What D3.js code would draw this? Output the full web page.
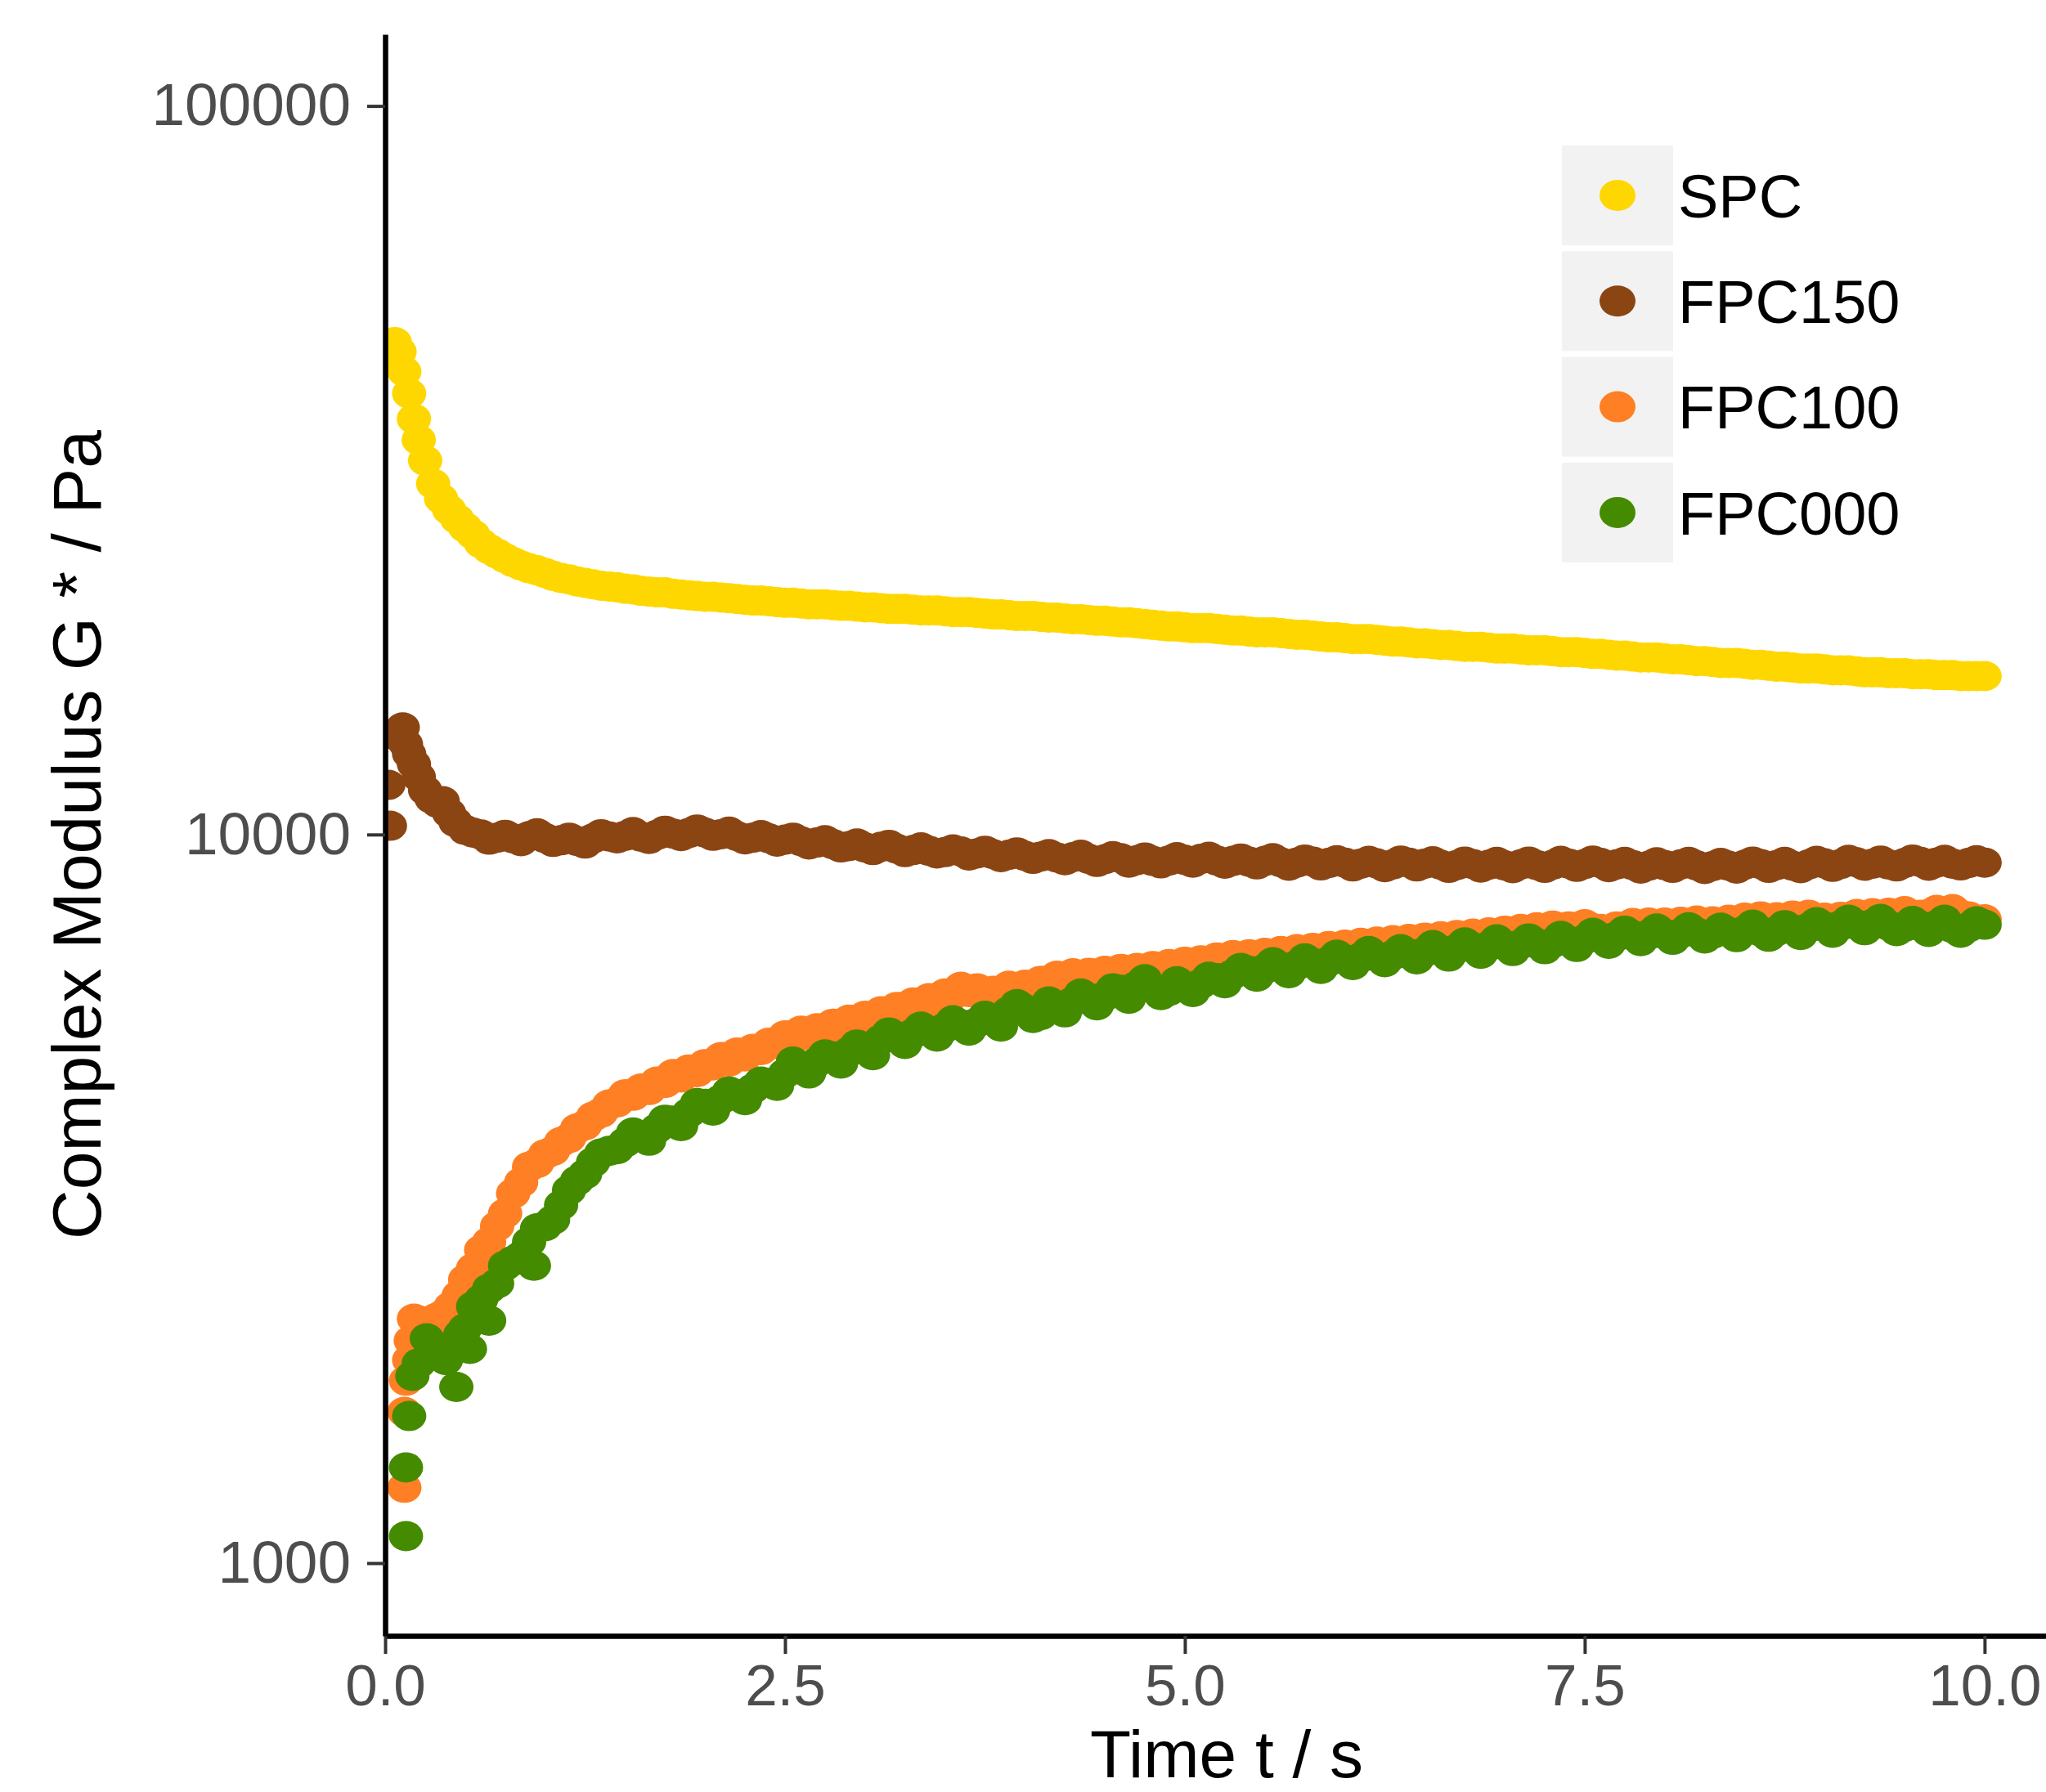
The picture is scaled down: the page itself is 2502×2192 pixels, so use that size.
<!DOCTYPE html>
<html>
<head>
<meta charset="utf-8">
<script src="https://cdn.jsdelivr.net/npm/d3@7"></script>
<style>
  body { margin: 0; background: #fff; }
  svg { display: block; }
  text { font-family: "Liberation Sans", Arial, sans-serif; }
</style>
</head>
<body>
<svg id="chart"></svg>
<script>
// data (time in s, complex modulus in Pa)

// time grids from 0.5 s on
var tMain = [
  0.5, 0.6, 0.7, 0.8, 0.9, 1.0, 1.1, 1.2, 1.3, 1.4,
  1.5, 1.6, 1.7, 1.8, 1.9, 2.0, 2.1, 2.2, 2.3, 2.4,
  2.5, 2.6, 2.7, 2.8, 2.9, 3.0, 3.1, 3.2, 3.3, 3.4,
  3.5, 3.6, 3.7, 3.8, 3.9, 4.0, 4.1, 4.2, 4.3, 4.4,
  4.5, 4.6, 4.7, 4.8, 4.9, 5.0, 5.1, 5.2, 5.3, 5.4,
  5.5, 5.6, 5.7, 5.8, 5.9, 6.0, 6.1, 6.2, 6.3, 6.4,
  6.5, 6.6, 6.7, 6.8, 6.9, 7.0, 7.1, 7.2, 7.3, 7.4,
  7.5, 7.6, 7.7, 7.8, 7.9, 8.0, 8.1, 8.2, 8.3, 8.4,
  8.5, 8.6, 8.7, 8.8, 8.9, 9.0, 9.1, 9.2, 9.3, 9.4,
  9.5, 9.6, 9.7, 9.8, 9.9, 10.0
];
var tMid = [
  0.55, 0.65, 0.75, 0.85, 0.95, 1.05, 1.15, 1.25, 1.35, 1.45,
  1.55, 1.65, 1.75, 1.85, 1.95, 2.05, 2.15, 2.25, 2.35, 2.45,
  2.55, 2.65, 2.75, 2.85, 2.95, 3.05, 3.15, 3.25, 3.35, 3.45,
  3.55, 3.65, 3.75, 3.85, 3.95, 4.05, 4.15, 4.25, 4.35, 4.45,
  4.55, 4.65, 4.75, 4.85, 4.95, 5.05, 5.15, 5.25, 5.35, 5.45,
  5.55, 5.65, 5.75, 5.85, 5.95, 6.05, 6.15, 6.25, 6.35, 6.45,
  6.55, 6.65, 6.75, 6.85, 6.95, 7.05, 7.15, 7.25, 7.35, 7.45,
  7.55, 7.65, 7.75, 7.85, 7.95, 8.05, 8.15, 8.25, 8.35, 8.45,
  8.55, 8.65, 8.75, 8.85, 8.95, 9.05, 9.15, 9.25, 9.35, 9.45,
  9.55, 9.65, 9.75, 9.85, 9.95
];

// first half second, [t, G*]
var spcEarly = [[0.03, 45500], [0.06, 47400], [0.09, 46000], [0.12, 43200], [0.15, 40300], [0.18, 37200],
                [0.21, 34800], [0.25, 32600], [0.3, 30300], [0.35, 28900], [0.4, 27900], [0.45, 27100]];
var fpc150Early = [[0.02, 11700], [0.03, 10280], [0.09, 13600], [0.11, 14030], [0.13, 13300], [0.15, 12900],
                   [0.18, 12490], [0.21, 12000], [0.25, 11500], [0.29, 11200], [0.33, 11050], [0.36, 11110],
                   [0.4, 10700], [0.44, 10400]];
var fpc100Early = [[0.12, 1269], [0.12, 1613], [0.13, 1780], [0.15, 1900], [0.16, 2020], [0.18, 2165],
                   [0.22, 2150], [0.27, 2100], [0.32, 2170], [0.36, 2193], [0.41, 2250], [0.46, 2330]];
var fpc000Early = [[0.13, 1089], [0.13, 1353], [0.15, 1592], [0.17, 1807], [0.21, 1880], [0.26, 2035],
                   [0.28, 2010], [0.33, 1930], [0.38, 1900], [0.445, 1745], [0.47, 2060], [0.53, 1968],
                   [0.65, 2152], [0.93, 2560]];

// values on tMain
var spcMain = [
  26400, 25100, 24300, 23650, 23200, 22850, 22500, 22250, 22050, 21900,
  21750, 21600, 21500, 21400, 21300, 21200, 21150, 21050, 20950, 20900,
  20800, 20750, 20700, 20650, 20600, 20500, 20450, 20400, 20350, 20300,
  20250, 20200, 20150, 20050, 20000, 19950, 19900, 19850, 19750, 19700,
  19650, 19550, 19500, 19400, 19300, 19250, 19200, 19150, 19050, 19000,
  18950, 18900, 18800, 18750, 18650, 18600, 18550, 18500, 18400, 18350,
  18300, 18200, 18150, 18100, 18050, 18000, 17950, 17900, 17850, 17800,
  17750, 17700, 17600, 17550, 17500, 17450, 17400, 17300, 17250, 17200,
  17150, 17100, 17000, 16950, 16900, 16850, 16800, 16750, 16700, 16650,
  16650, 16600, 16550, 16550, 16500, 16500
];
var fpc150Main = [
  10150, 10000, 9900, 9880, 9950, 9890, 9820, 9800, 9880, 9940,
  9960, 9930, 9990, 10030, 10050, 10060, 10010, 9950, 9900, 9880,
  9840, 9790, 9750, 9700, 9640, 9600, 9620, 9560, 9520, 9500,
  9460, 9480, 9420, 9400, 9380, 9350, 9330, 9300, 9310, 9260,
  9250, 9280, 9220, 9200, 9210, 9230, 9260, 9210, 9200, 9180,
  9200, 9160, 9150, 9180, 9140, 9150, 9120, 9130, 9100, 9150,
  9120, 9090, 9080, 9110, 9090, 9070, 9100, 9080, 9090, 9120,
  9110, 9140, 9100, 9080, 9060, 9080, 9100, 9070, 9050, 9060,
  9090, 9110, 9080, 9060, 9100, 9130, 9110, 9160, 9120, 9100,
  9140, 9170, 9150, 9120, 9140, 9150
];
var fpc100Main = [
  2450, 2690, 2900, 3216, 3500, 3640, 3786, 3950, 4100, 4260,
  4400, 4480, 4580, 4690, 4760, 4840, 4950, 5020, 5080, 5180,
  5300, 5380, 5420, 5500, 5570, 5640, 5720, 5800, 5880, 5960,
  6050, 6180, 6150, 6100, 6200, 6220, 6300, 6400, 6450, 6460,
  6500, 6540, 6560, 6600, 6640, 6690, 6720, 6780, 6830, 6850,
  6880, 6920, 6960, 6990, 7030, 7060, 7100, 7130, 7160, 7190,
  7220, 7250, 7280, 7310, 7340, 7380, 7420, 7460, 7500, 7480,
  7530, 7420, 7480, 7560, 7570, 7570, 7590, 7620, 7600, 7640,
  7690, 7720, 7700, 7740, 7760, 7690, 7710, 7780, 7800, 7810,
  7850, 7760, 7880, 7900, 7720, 7650
];
var fpc000Main = [
  2100, 2300, 2420, 2600, 2760, 2900, 3100, 3350, 3550, 3680,
  3780, 3860, 3950, 4050, 4150, 4270, 4330, 4400, 4480, 4560,
  4700, 4800, 4870, 4960, 5030, 5100, 5230, 5280, 5330, 5380,
  5430, 5490, 5520, 5560, 5720, 5760, 5650, 5800, 5900, 5950,
  6000, 6120, 6200, 6150, 6100, 6180, 6240, 6350, 6430, 6500,
  6540, 6580, 6620, 6660, 6700, 6740, 6780, 6800, 6830, 6860,
  6900, 6940, 6970, 7000, 7030, 7050, 7070, 7090, 7100, 7140,
  7180, 7220, 7250, 7270, 7290, 7300, 7320, 7340, 7310, 7350,
  7380, 7360, 7370, 7410, 7450, 7470, 7500, 7520, 7540, 7500,
  7470, 7490, 7510, 7440, 7460, 7520
];

// values on tMid
var spcMid = [
  25800, 24650, 23950, 23400, 23050, 22650, 22400, 22150, 21950, 21850,
  21700, 21550, 21500, 21350, 21250, 21200, 21100, 21000, 20950, 20850,
  20800, 20700, 20700, 20600, 20550, 20500, 20400, 20400, 20300, 20300,
  20200, 20200, 20100, 20050, 19950, 19950, 19850, 19800, 19750, 19650,
  19600, 19550, 19450, 19350, 19300, 19200, 19200, 19100, 19050, 18950,
  18950, 18850, 18800, 18700, 18650, 18550, 18550, 18450, 18400, 18300,
  18250, 18200, 18100, 18100, 18000, 18000, 17900, 17900, 17800, 17800,
  17700, 17650, 17600, 17500, 17500, 17400, 17350, 17300, 17200, 17200,
  17100, 17050, 17000, 16900, 16900, 16800, 16800, 16700, 16700, 16650,
  16600, 16600, 16550, 16500, 16500
];
var fpc150Mid = [
  10060, 9840, 9990, 9790, 10040, 9770, 9900, 9720, 10010, 9880,
  10080, 9860, 10120, 9950, 10160, 9960, 10090, 9850, 9980, 9780,
  9900, 9690, 9820, 9600, 9720, 9520, 9680, 9460, 9600, 9420,
  9540, 9360, 9500, 9310, 9450, 9260, 9400, 9220, 9380, 9170,
  9340, 9150, 9300, 9130, 9310, 9150, 9320, 9120, 9270, 9100,
  9280, 9060, 9240, 9070, 9220, 9040, 9200, 9020, 9210, 9040,
  9190, 9000, 9180, 9010, 9170, 8990, 9180, 9000, 9200, 9030,
  9210, 9020, 9170, 8980, 9160, 9000, 9170, 8970, 9140, 8980,
  9180, 9000, 9170, 8990, 9200, 9030, 9230, 9060, 9210, 9040,
  9240, 9060, 9230, 9070, 9220
];
var fpc100Mid = [
  2540, 2760, 3020, 3330, 3540, 3680, 3830, 3990, 4150, 4290,
  4380, 4460, 4560, 4640, 4720, 4820, 4880, 4960, 5060, 5160,
  5250, 5300, 5380, 5460, 5510, 5580, 5660, 5740, 5820, 5900,
  6020, 6080, 6060, 6070, 6120, 6180, 6250, 6280, 6350, 6400,
  6440, 6480, 6520, 6550, 6580, 6620, 6680, 6720, 6740, 6790,
  6820, 6860, 6900, 6940, 6960, 7000, 7040, 7060, 7100, 7120,
  7150, 7180, 7220, 7240, 7280, 7320, 7350, 7380, 7400, 7420,
  7440, 7400, 7460, 7480, 7500, 7510, 7540, 7530, 7560, 7600,
  7620, 7640, 7660, 7680, 7650, 7640, 7700, 7720, 7740, 7760,
  7740, 7780, 7820, 7760, 7640
];
var fpc000Mid = [
  2250, 2380, 2560, 2640, 2880, 2960, 3250, 3420, 3650, 3700,
  3900, 3800, 4060, 3980, 4280, 4180, 4440, 4320, 4580, 4520,
  4880, 4700, 4990, 4850, 5150, 4980, 5350, 5160, 5450, 5280,
  5560, 5380, 5640, 5450, 5850, 5600, 5900, 5700, 6050, 5830,
  6150, 5950, 6330, 6020, 6290, 6080, 6380, 6250, 6560, 6380,
  6680, 6450, 6760, 6540, 6840, 6620, 6920, 6680, 6960, 6740,
  7050, 6800, 7110, 6860, 7180, 6920, 7200, 6960, 7260, 7010,
  7330, 7080, 7380, 7140, 7430, 7170, 7460, 7200, 7450, 7230,
  7520, 7240, 7510, 7280, 7580, 7330, 7640, 7390, 7660, 7370,
  7610, 7350, 7640, 7330, 7600
];

var seriesNames  = ['SPC', 'FPC150', 'FPC100', 'FPC000'];
var seriesColors = ['#FFD700', '#8B4513', '#FF7F24', '#458B00'];
var xTicks = [0, 2.5, 5, 7.5, 10];
var yTicks = [1000, 10000, 100000];

var W = 2502, H = 2192;
var margin = { top: 42, right: 0, bottom: 191, left: 471 };

var x = d3.scaleLinear()
          .domain([0, 10.384])
          .range([margin.left, W - margin.right]);
var y = d3.scaleLog()
          .domain([794.6, 125400])
          .range([H - margin.bottom, margin.top]);

var raw = [
  { early: spcEarly,    main: spcMain,    mid: spcMid },
  { early: fpc150Early, main: fpc150Main, mid: fpc150Mid },
  { early: fpc100Early, main: fpc100Main, mid: fpc100Mid },
  { early: fpc000Early, main: fpc000Main, mid: fpc000Mid }
];

var series = raw.map(function(s, i) {
  var pts = s.early.map(function(p) { return { t: p[0], g: p[1] }; })
            .concat(tMain.map(function(t, j) { return { t: t, g: s.main[j] }; }))
            .concat(tMid.map(function(t, j) { return { t: t, g: s.mid[j] }; }));
  return { name: seriesNames[i], color: seriesColors[i], points: pts };
});

var svg = d3.select('#chart')
            .attr('width', W)
            .attr('height', H);

svg.append('rect').attr('width', W).attr('height', H).attr('fill', '#fff');

// clip points to the panel
svg.append('clipPath')
   .attr('id', 'panel')
   .append('rect')
   .attr('x', margin.left)
   .attr('y', margin.top)
   .attr('width', W - margin.left - margin.right)
   .attr('height', H - margin.top - margin.bottom);

var rx = 21, ry = 18.5;

var plot = svg.append('g').attr('clip-path', 'url(#panel)');

plot.selectAll('.series')
    .data(series)
    .enter()
    .append('g')
    .attr('class', 'series')
    .attr('fill', function(d) { return d.color; })
    .selectAll('ellipse')
    .data(function(d) { return d.points; })
    .enter()
    .append('ellipse')
    .attr('cx', function(d) { return x(d.t); })
    .attr('cy', function(d) { return y(d.g); })
    .attr('rx', rx)
    .attr('ry', ry);

// axes
var xAxis = d3.axisBottom(x)
              .tickValues(xTicks)
              .tickFormat(d3.format('.1f'))
              .tickSize(22)
              .tickSizeOuter(0)
              .tickPadding(13);

var gx = svg.append('g')
            .attr('transform', 'translate(0,' + (H - margin.bottom) + ')')
            .call(xAxis);

var yAxis = d3.axisLeft(y)
              .tickValues(yTicks)
              .tickFormat(d3.format('d'))
              .tickSize(22)
              .tickSizeOuter(0)
              .tickPadding(20);

var gy = svg.append('g')
            .attr('transform', 'translate(' + margin.left + ',0)')
            .call(yAxis);

[gx, gy].forEach(function(g) {
  g.select('.domain').attr('stroke', '#000').attr('stroke-width', 6.5);
  g.selectAll('.tick line').attr('stroke', '#333').attr('stroke-width', 4);
  g.selectAll('.tick text').attr('fill', '#4D4D4D');
});
gx.selectAll('.tick text').style('font-size', '71px');
gy.selectAll('.tick text').style('font-size', '73px');

// axis titles
svg.append('text')
   .attr('x', 1500)
   .attr('y', 2174)
   .attr('text-anchor', 'middle')
   .style('font-size', '82px')
   .attr('fill', '#000')
   .text('Time t / s');

svg.append('text')
   .attr('transform', 'translate(123,1021) rotate(-90)')
   .attr('text-anchor', 'middle')
   .style('font-size', '84px')
   .attr('fill', '#000')
   .text('Complex Modulus G * / Pa');

// legend
var keyW = 136, keyH = 122, keyStep = 129.3;
var legend = svg.selectAll('.legend')
                .data(series)
                .enter()
                .append('g')
                .attr('class', 'legend')
                .attr('transform', function(d, i) { return 'translate(1910,' + (178 + i * keyStep) + ')'; });

legend.append('rect')
      .attr('width', keyW)
      .attr('height', keyH)
      .attr('fill', '#F2F2F2');

legend.append('ellipse')
      .attr('cx', 68)
      .attr('cy', keyH / 2)
      .attr('rx', 22)
      .attr('ry', 19)
      .attr('fill', function(d) { return d.color; });

legend.append('text')
      .attr('x', 142)
      .attr('y', keyH / 2)
      .attr('dy', '0.36em')
      .style('font-size', '74px')
      .attr('fill', '#000')
      .text(function(d) { return d.name; });
</script>
</body>
</html>
